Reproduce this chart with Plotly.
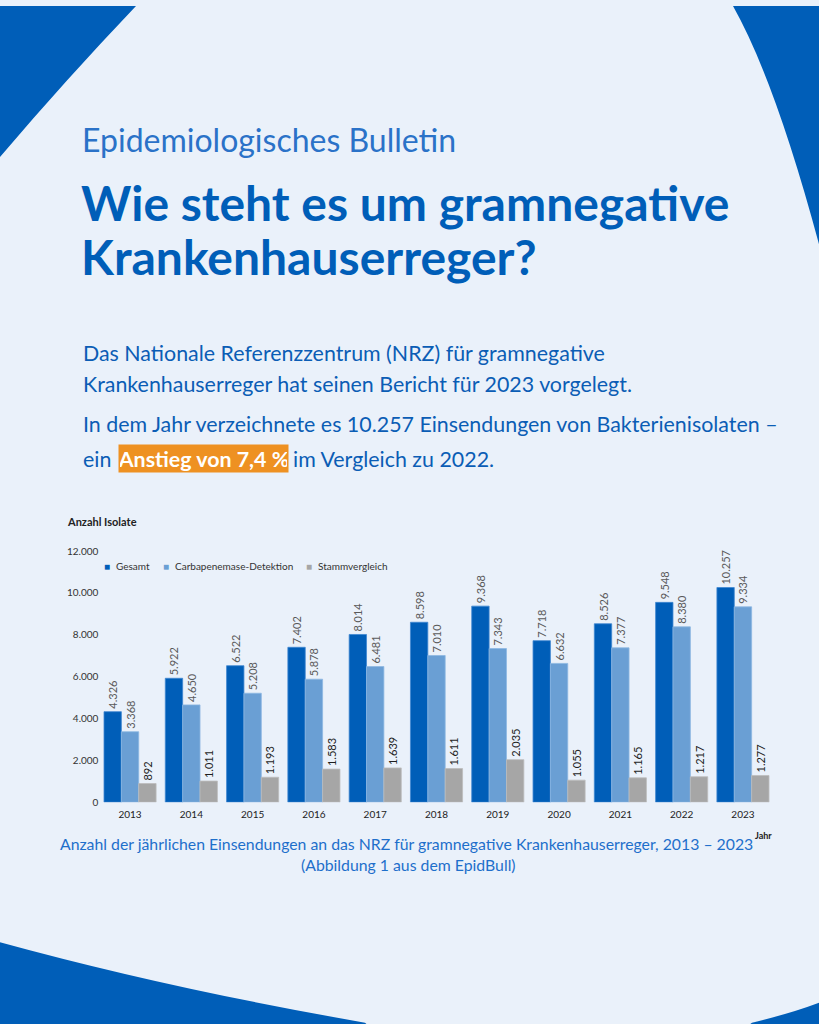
import plotly.graph_objects as go

# ---------------- data ----------------
years = ["2013", "2014", "2015", "2016", "2017", "2018", "2019", "2020", "2021", "2022", "2023"]
gesamt = [4326, 5922, 6522, 7402, 8014, 8598, 9368, 7718, 8526, 9548, 10257]
carbapenemase = [3368, 4650, 5208, 5878, 6481, 7010, 7343, 6632, 7377, 8380, 9334]
stammvergleich = [892, 1011, 1193, 1583, 1639, 1611, 2035, 1055, 1165, 1217, 1277]
series_names = ["Gesamt", "Carbapenemase-Detektion", "Stammvergleich"]
y_tick_values = [0, 2000, 4000, 6000, 8000, 10000, 12000]
grid_values = [2000, 6000]

# ---------------- styling ----------------
W, H = 819, 1040
KY = 1027.5 / 1024  # vertical compensation for the capture
BG = "#EAF1FA"
DARK_BLUE = "#005EB8"
MID_BLUE = "#6A9FD4"
GREY = "#A6A6A6"
ORANGE = "#EE9122"
FONT = "Lato"


def px(x):
    return x / W


def py(y):
    return 1 - y * KY / H


def path(points_cmds):
    out = []
    for cmd in points_cmds:
        c = cmd[0]
        pts = cmd[1:]
        s = c + " " + " ".join(f"{px(x):.5f},{py(y):.5f}" for x, y in pts)
        out.append(s)
    return " ".join(out) + " Z"


fig = go.Figure()

colors = [DARK_BLUE, MID_BLUE, GREY]
edge_colors = ["#3F86D0", "#8DB8E2", "#BDBDBD"]
label_colors = ["#5A5A5A", "#5A5A5A", "#1E1E1E"]
for name, vals, col, ecol, lcol in zip(series_names, [gesamt, carbapenemase, stammvergleich],
                                        colors, edge_colors, label_colors):
    fig.add_trace(go.Bar(
        x=years, y=vals, name=name,
        marker=dict(color=col, line=dict(color=ecol, width=0.8)),
        texttemplate="%{y:,}", textposition="outside", textangle=-90,
        textfont=dict(family=FONT, size=11, color=lcol),
        constraintext="none", cliponaxis=False, showlegend=False,
        hovertemplate=name + " %{x}: %{y:,}<extra></extra>",
    ))

# ---------------- decorative shapes ----------------
shapes = [
    dict(type="path", xref="paper", yref="paper", layer="below", line=dict(width=0), fillcolor=DARK_BLUE,
         path=path([("M", (0, 0)), ("L", (136, 0)), ("Q", (66, 74), (0, 152))])),
    dict(type="path", xref="paper", yref="paper", layer="below", line=dict(width=0), fillcolor=DARK_BLUE,
         path=path([("M", (733, 0)), ("L", (819, 0)), ("L", (819, 240)), ("Q", (775, 75), (733, 0))])),
    dict(type="path", xref="paper", yref="paper", layer="below", line=dict(width=0), fillcolor=DARK_BLUE,
         path=path([("M", (0, 943)), ("Q", (170, 990), (365, 1024)), ("L", (375, 1033)), ("L", (0, 1033))])),
    dict(type="path", xref="paper", yref="paper", layer="below", line=dict(width=0), fillcolor=DARK_BLUE,
         path=path([("M", (752, 1024)), ("Q", (790, 1015), (819, 1004)), ("L", (819, 1033)), ("L", (740, 1033))])),
]

# ---------------- texts ----------------
ann = []


def txt(text, x, y, size, color, anchor="left", bold=False, **kw):
    d = dict(text=text, x=px(x), y=py(y), xref="paper", yref="paper", xanchor=anchor,
             yanchor="middle", showarrow=False,
             font=dict(family=FONT, size=size, color=color, weight="bold" if bold else "normal"))
    d.update(kw)
    ann.append(d)


PARA = "#0B5DB5"
PS = 21.4
txt("Epidemiologisches Bulletin", 80, 134, 32, "#2A72C8")
txt("Wie steht es um gramnegative", 79, 198, 48, DARK_BLUE, bold=True)
txt("Krankenhauserreger?", 79, 252, 48, DARK_BLUE, bold=True)

txt("Das Nationale Referenzzentrum (NRZ) für gramnegative", 81, 350, PS, PARA)
txt("Krankenhauserreger hat seinen Bericht für 2023 vorgelegt.", 81, 381, PS, PARA)
txt("In dem Jahr verzeichnete es 10.257 Einsendungen von Bakterienisolaten –", 81, 421, PS, PARA)
txt("ein", 81, 456, PS, PARA)
txt("Anstieg von 7,4 %", 118, 456, PS, "#FFFFFF", bold=True, bgcolor=ORANGE, borderpad=1,
    width=167, height=25, align="center")
txt("im Vergleich zu 2022.", 291, 456, PS, PARA)

# chart texts
txt("Anzahl Isolate", 65, 519, 11, "#222222", bold=True)
legend_pos = [(103, 114), (162, 173), (305, 316)]
for (sx, tx), name, col in zip(legend_pos, series_names, colors):
    txt("■", sx - 1, 564, 10, col)
    txt(name, tx, 564, 10, "#333333")

txt("Anzahl der jährlichen Einsendungen an das NRZ für gramnegative Krankenhauserreger, 2013 – 2023",
    406, 844, 15.8, "#1E6FCB", anchor="center")
txt("Jahr", 753, 836, 9, "#222222", bold=True)
txt("(Abbildung 1 aus dem EpidBull)", 408, 865, 15.8, "#1E6FCB", anchor="center")

fig.update_layout(
    width=W, height=H,
    margin=dict(l=0, r=0, t=0, b=0),
    paper_bgcolor=BG, plot_bgcolor="rgba(0,0,0,0)",
    separators=",.",
    barmode="group", bargap=0.15, bargroupgap=0.0,
    shapes=shapes, annotations=ann,
    showlegend=False,
    font=dict(family=FONT),
    xaxis=dict(domain=[px(99.4), px(773.6)], showgrid=False, zeroline=False, showline=False,
               ticks="", ticklabelstandoff=5,
               tickfont=dict(family=FONT, size=10, color="#222222"), fixedrange=True),
    yaxis=dict(domain=[py(802), py(549)], range=[0, 12000], tickvals=y_tick_values, tickformat=",",
               showgrid=False, zeroline=False, showline=False, ticks="",
               tickfont=dict(family=FONT, size=10, color="#333333"), fixedrange=True),
    yaxis2=dict(domain=[py(802), py(549)], range=[0, 12000], overlaying="y", tickvals=grid_values,
                showticklabels=False, showgrid=True, gridcolor="#DDE4EE", gridwidth=1,
                zeroline=False, showline=False, ticks="", anchor="x", layer="below traces"),
)

post = (
    "var gd=document.getElementById('{plot_id}');"
    "gd.style.position='fixed';gd.style.left='0px';gd.style.top='0px';"
    "document.body.style.margin='0';"
    "document.documentElement.style.overflow='hidden';document.body.style.overflow='hidden';"
    "document.body.style.background='" + BG + "';"
    "document.documentElement.style.background='" + BG + "';"
    "window.scrollTo(0,0);"
)

fig.write_html("out.html", config={"displayModeBar": False}, post_script=post)
